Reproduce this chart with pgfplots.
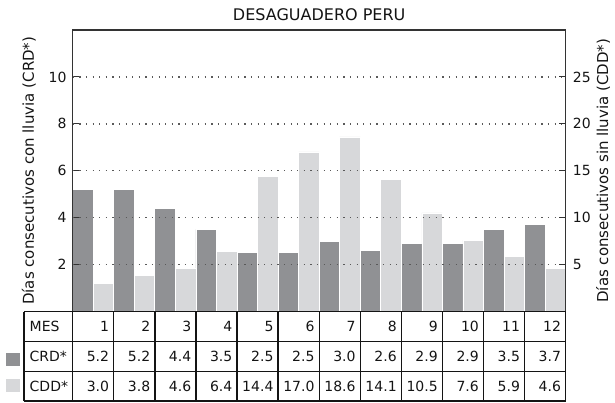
\documentclass[border=0pt]{standalone}
\usepackage{fontspec}
\setmainfont{DejaVu Sans}
\usepackage{pgfplots}
\usepackage{pgfplotstable}
\pgfplotsset{compat=1.18}

\definecolor{crdgray}{HTML}{909194}
\definecolor{cddgray}{HTML}{D7D8DA}
\definecolor{framegray}{HTML}{333333}
\newcommand\tabfont{\fontsize{14}{16}\selectfont}

% month, consecutive rain days (CRD*), consecutive dry days (CDD*)
\pgfplotstableread{
mes crd cdd
1  5.2 3.0
2  5.2 3.8
3  4.4 4.6
4  3.5 6.4
5  2.5 14.4
6  2.5 17.0
7  3.0 18.6
8  2.6 14.1
9  2.9 10.5
10 2.9 7.6
11 3.5 5.9
12 3.7 4.6
}\datatable

\pgfplotsset{
  base/.style={
    scale only axis, width=493pt, height=281.5pt,
    at={(72.7pt,90.5pt)}, anchor=south west,
    xmin=0.5, xmax=12.5, xtick=\empty, ymin=0,
    tick align=inside, major tick length=7pt,
    axis line style={draw=framegray, line width=1.3pt},
    every tick/.style={draw=framegray, line width=1pt},
    tick label style={font=\fontsize{14}{16}\selectfont, text=black!92},
    /pgf/number format/assume math mode=true,
    label style={font=\fontsize{15}{18}\selectfont, text=black!92, inner sep=0pt},
    axis on top,
  },
}

\begin{document}
\begin{tikzpicture}[x=1pt,y=1pt]
\useasboundingbox (0,0) rectangle (615,402);

\begin{axis}[base,
  ymax=12, ytick={2,4,6,8,10},
  ytick pos=left, yticklabel pos=left,
  yticklabel style={inner sep=0pt, xshift=-6pt},
  ylabel={Días consecutivos con lluvia (CRD*)},
  ylabel style={at={(rel axis cs:-0.1034,0.5)}, anchor=north},
  title={DESAGUADERO PERU},
  title style={font=\fontsize{16}{19}\selectfont, text=black!92},
]
\addplot[ybar, bar width=0.5, bar shift=-0.25, fill=crdgray, draw=white, line width=0.8pt]
  table[x=mes, y=crd] {\datatable};
\end{axis}

\begin{axis}[base,
  ymax=30, ytick={5,10,15,20,25},
  ytick pos=right, yticklabel pos=right,
  yticklabel style={inner sep=0pt, xshift=7pt},
  ymajorgrids,
  grid style={dash pattern=on 1.3pt off 5.3pt, line width=1.4pt, color=black!65},
  ylabel={Días consecutivos sin lluvia (CDD*)},
  ylabel style={at={(rel axis cs:1.0615,0.5)}, anchor=north},
]
\addplot[ybar, bar width=0.5, bar shift=0.25, fill=cddgray, draw=white, line width=0.8pt]
  table[x=mes, y=cdd] {\datatable};
\end{axis}

% data table under the bars
\begin{scope}[line width=1.3pt, black!92]
  \foreach \yy in {90.5,60.2,30.5,1.0} {\draw (24,\yy) -- (565.7,\yy);}
  \draw (24,1.0) -- (24,90.5);
  \foreach \k in {0,...,12} {\draw (72.7+41.083*\k,1.0) -- (72.7+41.083*\k,90.5);}
\end{scope}
\fill[crdgray] (6,36) rectangle (20,49);
\fill[cddgray] (6,10) rectangle (20,23);

\begin{scope}[every node/.style={inner sep=0pt, font=\tabfont, text=black!92}]
  \node[anchor=west] at (29.5,75.35) {MES};
  \node[anchor=west] at (29.5,45.35) {CRD*};
  \node[anchor=west] at (29.5,15.75) {CDD*};
  \pgfplotstableforeachcolumnelement{mes}\of\datatable\as\cell{%
    \pgfmathsetmacro\xr{72.7+(\pgfplotstablerow+1)*41.083-4.5}%
    \node[anchor=east] at (\xr,75.35) {\cell};}
  \pgfplotstableforeachcolumnelement{crd}\of\datatable\as\cell{%
    \pgfmathsetmacro\xr{72.7+(\pgfplotstablerow+1)*41.083-4.5}%
    \node[anchor=east] at (\xr,45.35) {\cell};}
  \pgfplotstableforeachcolumnelement{cdd}\of\datatable\as\cell{%
    \pgfmathsetmacro\xr{72.7+(\pgfplotstablerow+1)*41.083-4.5}%
    \node[anchor=east] at (\xr,15.75) {\cell};}
\end{scope}
\end{tikzpicture}
\end{document}
